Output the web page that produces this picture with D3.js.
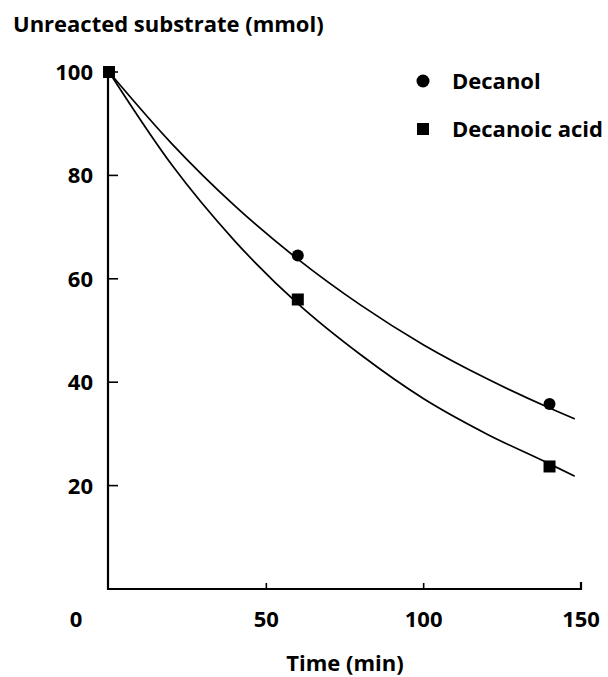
<!DOCTYPE html>
<html>
<head>
<meta charset="utf-8">
<script src="https://cdn.jsdelivr.net/npm/d3@7"></script>
<style>
  body { margin: 0; background: #fff; }
  text { font-family: 'Open Sans', sans-serif; font-weight: 700; fill: #000; }
</style>
</head>
<body>
<svg class="graph"></svg>
<script>
// measured points (time in min, unreacted substrate in mmol)
const decanolTime = [0, 60, 140];
const decanolValue = [100, 64.5, 35.8];
const acidTime = [0, 60, 140];
const acidValue = [100, 56, 23.7];

// fitted curves
const curveTime = [0, 20, 40, 60, 80, 100, 120, 140, 148];
const decanolCurve = [100, 86.1, 74.1, 63.8, 54.9, 47.2, 40.7, 35.0, 32.9];
const acidCurve = [100, 82.0, 67.3, 55.2, 45.3, 36.8, 30.0, 24.2, 21.8];

const xTicks = [50, 100, 150];
const yTicks = [20, 40, 60, 80, 100];
const legendNames = ['Decanol', 'Decanoic acid'];

const width = 608;
const height = 677;

const svg = d3.select('.graph')
  .attr('width', width)
  .attr('height', height);

const x = d3.scaleLinear().domain([0, 150]).range([109, 581]);
const y = d3.scaleLinear().domain([0, 100]).range([589, 72]);

// axes
svg.append('path')
  .attr('d', `M${x(0) - 1},${y(100)} V${y(0)} H${x(150)} V${y(0) - 7}`)
  .attr('fill', 'none')
  .attr('stroke', '#000')
  .attr('stroke-width', 2.2);

svg.selectAll('.ytick')
  .data(yTicks)
  .enter()
  .append('line')
  .attr('x1', x(0) - 1)
  .attr('x2', x(0) + 9)
  .attr('y1', d => y(d))
  .attr('y2', d => y(d))
  .attr('stroke', '#000')
  .attr('stroke-width', 1.6);

svg.selectAll('.xtick')
  .data(xTicks.slice(0, 2))
  .enter()
  .append('line')
  .attr('x1', d => x(d))
  .attr('x2', d => x(d))
  .attr('y1', y(0))
  .attr('y2', y(0) - 6)
  .attr('stroke', '#000')
  .attr('stroke-width', 1.6);

svg.selectAll('.ylabel')
  .data(yTicks)
  .enter()
  .append('text')
  .attr('x', 93)
  .attr('y', d => y(d))
  .attr('dy', '0.36em')
  .attr('text-anchor', 'end')
  .attr('font-size', 22)
  .text(d => d);

svg.selectAll('.xlabel')
  .data([0].concat(xTicks))
  .enter()
  .append('text')
  .attr('x', d => d === 0 ? 76 : x(d))
  .attr('y', 619)
  .attr('dy', '0.36em')
  .attr('text-anchor', 'middle')
  .attr('font-size', 22)
  .text(d => d);

svg.append('text')
  .attr('x', 13)
  .attr('y', 32)
  .attr('font-size', 22)
  .text('Unreacted substrate (mmol)');

svg.append('text')
  .attr('x', 345)
  .attr('y', 663)
  .attr('dy', '0.36em')
  .attr('text-anchor', 'middle')
  .attr('font-size', 22)
  .text('Time (min)');

// curves
const line = d3.line()
  .x(d => x(d[0]))
  .y(d => y(d[1]))
  .curve(d3.curveMonotoneX);

[decanolCurve, acidCurve].forEach(values => {
  svg.append('path')
    .datum(curveTime.map((t, i) => [t, values[i]]))
    .attr('d', line)
    .attr('fill', 'none')
    .attr('stroke', '#000')
    .attr('stroke-width', 1.7);
});

// points
svg.selectAll('.dot')
  .data(decanolTime.map((t, i) => [t, decanolValue[i]]))
  .enter()
  .append('circle')
  .attr('cx', d => x(d[0]))
  .attr('cy', d => y(d[1]))
  .attr('r', 6)
  .attr('fill', '#000');

svg.selectAll('.sq')
  .data(acidTime.map((t, i) => [t, acidValue[i]]))
  .enter()
  .append('rect')
  .attr('x', d => x(d[0]) - 6)
  .attr('y', d => y(d[1]) - 6)
  .attr('width', 12)
  .attr('height', 12)
  .attr('fill', '#000');

// legend
const legend = svg.selectAll('.legend')
  .data(legendNames)
  .enter()
  .append('g')
  .attr('transform', (d, i) => `translate(423, ${81 + i * 48})`);

legend.filter((d, i) => i === 0)
  .append('circle')
  .attr('r', 6.5)
  .attr('fill', '#000');

legend.filter((d, i) => i === 1)
  .append('rect')
  .attr('x', -6)
  .attr('y', -6)
  .attr('width', 12)
  .attr('height', 12)
  .attr('fill', '#000');

legend.append('text')
  .attr('x', 29)
  .attr('dy', '0.36em')
  .attr('font-size', 22)
  .text(d => d);
</script>
</body>
</html>
